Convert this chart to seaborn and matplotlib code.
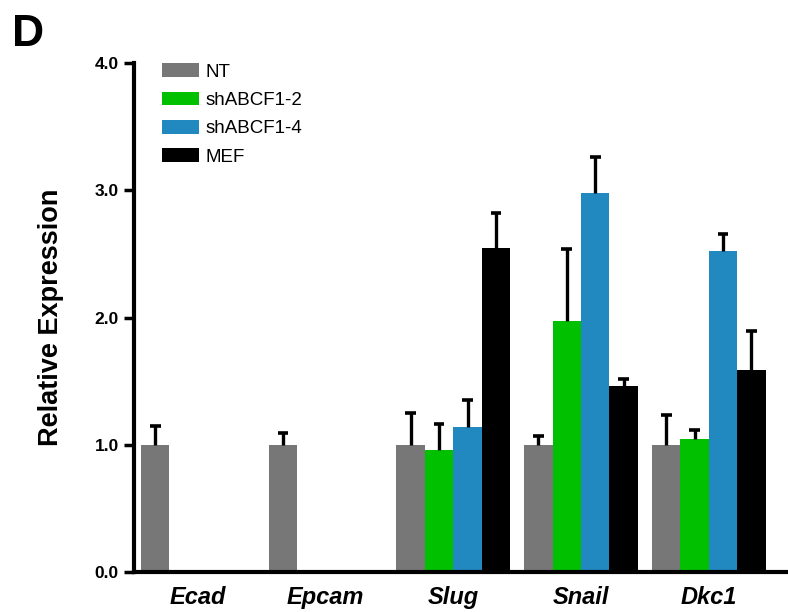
import matplotlib
matplotlib.use("Agg")
import matplotlib.pyplot as plt
import seaborn as sns
import pandas as pd
import numpy as np
from matplotlib.patches import Patch

genes = ["Ecad", "Epcam", "Slug", "Snail", "Dkc1"]
groups = ["NT", "shABCF1-2", "shABCF1-4", "MEF"]
nt_vals = [1.00, 1.00, 1.00, 1.00, 1.00]
nt_err = [0.15, 0.09, 0.25, 0.07, 0.23]
sh2_vals = [0.0, 0.0, 0.96, 1.97, 1.045]
sh2_err = [0.0, 0.0, 0.20, 0.57, 0.07]
sh4_vals = [0.0, 0.0, 1.14, 2.98, 2.52]
sh4_err = [0.0, 0.0, 0.21, 0.28, 0.14]
mef_vals = [0.0, 0.0, 2.55, 1.46, 1.59]
mef_err = [0.0, 0.0, 0.27, 0.06, 0.30]
colors = ["#777777", "#00C000", "#2288C0", "#000000"]

vals = [nt_vals, sh2_vals, sh4_vals, mef_vals]
errs = [nt_err, sh2_err, sh4_err, mef_err]
rows = []
for g, v in zip(groups, vals):
    for gene, x in zip(genes, v):
        rows.append({"gene": gene, "group": g, "value": x})
df = pd.DataFrame(rows)

sns.set_style("ticks")
plt.rcParams["font.family"] = ["Liberation Sans", "DejaVu Sans"]
plt.rcParams["text.color"] = "black"
plt.rcParams["axes.labelcolor"] = "black"
plt.rcParams["xtick.color"] = "black"
plt.rcParams["ytick.color"] = "black"
plt.rcParams["axes.edgecolor"] = "black"

fig = plt.figure(figsize=(7.88, 6.12), dpi=100)
ax = fig.add_axes([134 / 788, 40 / 612, (788 - 134) / 788, (572 - 63) / 612])

sns.barplot(data=df, x="gene", y="value", hue="group", order=genes,
            hue_order=groups, palette=colors, saturation=1, width=0.89, gap=0,
            errorbar=None, linewidth=0, ax=ax, legend=False)

for cont, err in zip(ax.containers, errs):
    for bar, e in zip(cont, err):
        if e > 0:
            xc = bar.get_x() + bar.get_width() / 2
            h = bar.get_height()
            ax.vlines(xc, h, h + e, color="black", linewidth=2.4, zorder=3)
            ax.hlines(h + e, xc - 0.042, xc + 0.042, color="black",
                      linewidth=2.6, zorder=3)

ax.set_ylim(0, 4.0)
ax.set_xlim(-0.5, 4.62)
ax.set_yticks([0, 1, 2, 3, 4])
ax.set_yticklabels(["0.0", "1.0", "2.0", "3.0", "4.0"], fontsize=12.5, fontweight="bold")
ax.set_xticks(range(len(genes)))
ax.set_xticklabels(genes, fontsize=17, fontweight="bold", fontstyle="italic")
ax.tick_params(axis="x", length=0, pad=10)
ax.tick_params(axis="y", length=7, width=2.5, direction="out", pad=4)
ax.set_xlabel("")
ax.set_ylabel("Relative Expression", fontsize=19.5, fontweight="bold", labelpad=22)
for s in ["top", "right"]:
    ax.spines[s].set_visible(False)
for s in ["left", "bottom"]:
    ax.spines[s].set_linewidth(3)

handles = [Patch(facecolor=c, edgecolor="none") for c in colors]
ax.legend(handles, groups, loc="upper left", bbox_to_anchor=(0.031, 1.014),
          frameon=False, fontsize=13.5, handlelength=2.0, handleheight=0.75,
          labelspacing=0.58, handletextpad=0.35, borderaxespad=0)

fig.text(12, 612 - 14, "D", fontsize=32, fontweight="bold",
         transform=None, va="top", ha="left")

fig.savefig("out.png", dpi=100)
